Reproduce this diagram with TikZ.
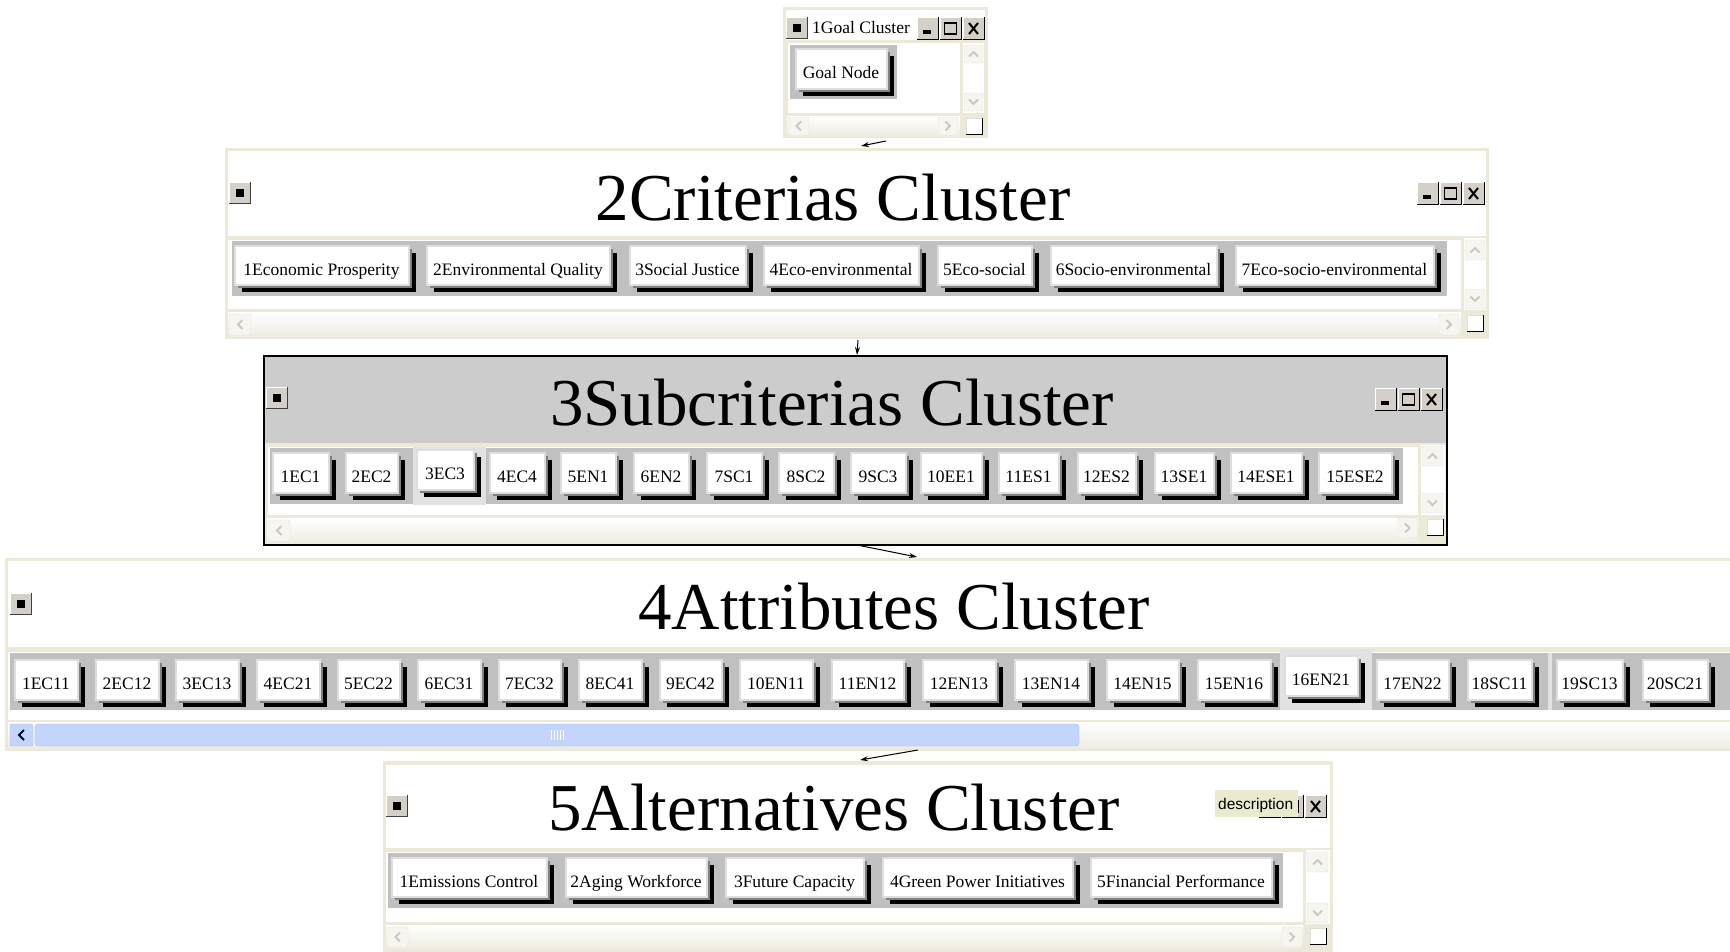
\documentclass[tikz,border=0pt]{standalone}
\usepackage{fontspec}
\setmainfont{Liberation Serif}
\newfontfamily\tipfont{Liberation Sans}
\usetikzlibrary{shadows,arrows.meta}
\definecolor{frm}{RGB}{236,233,216}
\definecolor{bandc}{RGB}{192,192,192}
\definecolor{btnedge}{RGB}{222,222,222}
\definecolor{btndark}{RGB}{128,128,128}
\definecolor{wbtnc}{RGB}{212,208,200}
\definecolor{sgrey}{RGB}{204,204,204}
\definecolor{sbfill}{RGB}{246,245,240}
\definecolor{sbedge}{RGB}{226,224,214}
\definecolor{sbglyph}{RGB}{200,200,196}
\definecolor{sbshade}{RGB}{238,236,226}
\definecolor{thumbc}{RGB}{196,213,252}
\definecolor{thumbedge}{RGB}{168,190,242}
\definecolor{tipbg}{RGB}{234,234,206}
\definecolor{selband}{RGB}{226,226,226}
\newcommand\btnfont{\fontsize{17.5}{20}\selectfont}
\newcommand\ttlfont{\fontsize{67}{70}\selectfont}
\tikzset{
  btn/.style={fill=white, draw=btnedge, line width=2pt, inner sep=0pt, font=\btnfont,
    text height=22pt, text depth=2pt,
    general shadow={fill=black, shadow xshift=7pt, shadow yshift=-7pt},
    general shadow={fill=btndark, shadow xshift=3.5pt, shadow yshift=-3.5pt}},
  ttl/.style={anchor=base, font=\ttlfont, inner sep=0pt},
  conn/.style={line width=1pt, -{Stealth[length=8pt,width=5pt]}}
}
\newcommand\btn[6]{\node[btn, minimum width={#3-#2-9}, minimum height={#5-#4-9}] (#1) at ({(#2+#3-8)/2},{(#4+#5-8)/2}) {#6};}
\newcommand\onewbtn[2]{%
  \fill[wbtnc] (#1,#2) rectangle ++(22,23);
  \draw[white,line width=1pt] (#1+0.5,#2+22.5) -- (#1+0.5,#2+0.5) -- (#1+21.5,#2+0.5);
  \draw[black,line width=1.5pt] (#1,#2+22.25) -- (#1+21.25,#2+22.25) -- (#1+21.25,#2);}
\newcommand\winbtns[2]{%
  \onewbtn{#1}{#2}\onewbtn{#1+23}{#2}\onewbtn{#1+46}{#2}
  \fill[black] (#1+6,#2+13) rectangle (#1+14,#2+16.5);
  \draw[black,line width=1.5pt] (#1+27.5,#2+5.5) rectangle (#1+39.5,#2+17);
  \draw[black,line width=2.5pt] (#1+27.5,#2+6) -- (#1+39.5,#2+6);
  \draw[black,line width=2pt] (#1+52,#2+6) -- (#1+61,#2+17) (#1+61,#2+6) -- (#1+52,#2+17);}
\newcommand\icn[2]{%
  \fill[wbtnc] (#1,#2) rectangle ++(22,22);
  \draw[white,line width=1pt] (#1+0.5,#2+21.5) -- (#1+0.5,#2+0.5) -- (#1+21.5,#2+0.5);
  \draw[black!75,line width=1.5pt] (#1,#2+21.25) -- (#1+21.25,#2+21.25) -- (#1+21.25,#2);
  \fill[black] (#1+7,#2+7) rectangle ++(8,8);}
\newcommand\sbtn[5]{%
  \draw[sbedge, fill=sbfill, rounded corners=2pt] (#1,#2) rectangle ++(#3,#4);
  \begin{scope}[shift={({#1+#3/2},{#2+#4/2})}, rotate=#5]
    \draw[sbglyph, line width=1.8pt] (2.5,-4.5) -- (-2,0) -- (2.5,4.5);
  \end{scope}}
\newcommand\corner[2]{%
  \fill[white] (#1,#2) rectangle ++(17,17);
  \draw[sbedge] (#1,#2+16) -- (#1,#2) -- (#1+16,#2);
  \draw[black,line width=1.5pt] (#1,#2+16.5) -- (#1+16.5,#2+16.5) -- (#1+16.5,#2);}
\begin{document}
\begin{tikzpicture}[x=1pt,y=-1pt]
\clip (0,0) rectangle (1730,951);
\fill[white] (0,0) rectangle (1730,951);

% ---------- 1 Goal cluster ----------
\fill[frm] (783,7) rectangle (988,138);
\fill[white] (786,10) rectangle (985,40);
\icn{786}{17}
\node[anchor=base west, font=\btnfont, inner sep=0pt] (gtitle) at (812,33) {1Goal Cluster};
\winbtns{917}{17}
\fill[white] (788,43) rectangle (960,113);
\fill[bandc] (790,45) rectangle (897,99);
\btn{goal}{795}{895}{48}{97}{Goal Node}
\fill[white] (963,43) rectangle (984,113);
\sbtn{964}{45}{19}{18}{-90}
\sbtn{964}{93}{19}{18}{90}
\shade[top color=white,bottom color=sbshade] (787,116) rectangle (960,136);
\sbtn{788}{117}{21}{18}{0}
\sbtn{938}{117}{20}{18}{180}
\corner{966}{118}

% ---------- 2 Criterias cluster ----------
\fill[frm] (225,148) rectangle (1489,339);
\fill[white] (228,151) rectangle (1486,236);
\icn{229}{182}
\node[ttl] (ctitle) at (833,220) {2Criterias Cluster};
\winbtns{1417}{182}
\fill[white] (228,240) rectangle (1461,309);
\fill[bandc] (232,241) rectangle (1447,296);
\btn{c1}{234}{417}{245}{293}{1Economic Prosperity}
\btn{c2}{426}{618}{245}{293}{2Environmental Quality}
\btn{c3}{629}{754}{245}{293}{3Social Justice}
\btn{c4}{763}{927}{245}{293}{4Eco-environmental}
\btn{c5}{937}{1040}{245}{293}{5Eco-social}
\btn{c6}{1050}{1225}{245}{293}{6Socio-environmental}
\btn{c7}{1235}{1442}{245}{293}{7Eco-socio-environmental}
\fill[white] (1464,238) rectangle (1486,310);
\sbtn{1465}{240}{20}{20}{-90}
\sbtn{1465}{289}{20}{20}{90}
\shade[top color=white,bottom color=sbshade] (228,312) rectangle (1461,336);
\sbtn{229}{314}{22}{21}{0}
\sbtn{1439}{314}{20}{21}{180}
\corner{1467}{315}

% ---------- 3 Subcriterias cluster ----------
\fill[frm] (263,355) rectangle (1448,546);
\fill[sgrey] (264,356) rectangle (1447,443);
\icn{266}{387}
\node[ttl] (stitle) at (832,425) {3Subcriterias Cluster};
\winbtns{1375}{388}
\fill[white] (268,447) rectangle (1418,515);
\fill[bandc] (270,448) rectangle (1403,504);
\fill[selband] (413,447) rectangle (486,505);
\btn{s1}{272}{337}{452}{501}{1EC1}
\btn{s2}{345}{406}{452}{501}{2EC2}
\btn{s3}{416}{482}{449}{498}{3EC3}
\btn{s4}{489}{553}{452}{501}{4EC4}
\btn{s5}{560}{624}{452}{501}{5EN1}
\btn{s6}{633}{697}{452}{501}{6EN2}
\btn{s7}{706}{770}{452}{501}{7SC1}
\btn{s8}{778}{842}{452}{501}{8SC2}
\btn{s9}{850}{914}{452}{501}{9SC3}
\btn{s10}{920}{990}{452}{501}{10EE1}
\btn{s11}{998}{1067}{452}{501}{11ES1}
\btn{s12}{1077}{1144}{452}{501}{12ES2}
\btn{s13}{1154}{1222}{452}{501}{13SE1}
\btn{s14}{1230}{1310}{452}{501}{14ESE1}
\btn{s15}{1318}{1400}{452}{501}{15ESE2}
\fill[white] (1421,445) rectangle (1445,515);
\sbtn{1422}{446}{21}{20}{-90}
\sbtn{1422}{493}{21}{20}{90}
\shade[top color=white,bottom color=sbshade] (267,518) rectangle (1418,543);
\sbtn{268}{520}{22}{21}{0}
\sbtn{1398}{518}{19}{20}{180}
\corner{1427}{519}
\draw[black,line width=2.5pt] (264,356) rectangle (1447,545);

% ---------- 4 Attributes cluster ----------
\fill[frm] (5,558) rectangle (1740,751);
\fill[white] (8,561) rectangle (1740,647);
\icn{10}{593}
\node[ttl] (atitle) at (894,629) {4Attributes Cluster};
\fill[white] (8,652) rectangle (1740,720);
\fill[bandc] (10,653) rectangle (1740,710);
\fill[selband] (1280,649) rectangle (1372,710);
\fill[selband] (1548,653) rectangle (1552,710);
\btn{a1}{14}{86}{659}{708}{1EC11}
\btn{a2}{95}{167}{659}{708}{2EC12}
\btn{a3}{175}{247}{659}{708}{3EC13}
\btn{a4}{256}{328}{659}{708}{4EC21}
\btn{a5}{337}{408}{659}{708}{5EC22}
\btn{a6}{417}{489}{659}{708}{6EC31}
\btn{a7}{498}{569}{659}{708}{7EC32}
\btn{a8}{578}{650}{659}{708}{8EC41}
\btn{a9}{659}{730}{659}{708}{9EC42}
\btn{a10}{739}{821}{659}{708}{10EN11}
\btn{a11}{831}{912}{659}{708}{11EN12}
\btn{a12}{922}{1004}{659}{708}{12EN13}
\btn{a13}{1014}{1096}{659}{708}{13EN14}
\btn{a14}{1106}{1187}{659}{708}{14EN15}
\btn{a15}{1197}{1279}{659}{708}{15EN16}
\btn{a16}{1284}{1366}{655}{704}{16EN21}
\btn{a17}{1376}{1457}{659}{708}{17EN22}
\btn{a18}{1467}{1540}{659}{708}{18SC11}
\btn{a19}{1556}{1631}{659}{708}{19SC13}
\btn{a20}{1642}{1716}{659}{708}{20SC21}
\shade[top color=white,bottom color=sbshade] (8,722) rectangle (1740,748);
\draw[thumbedge, fill=thumbc, rounded corners=3pt] (35,724) rectangle (1079,746);
\foreach \gx in {551,554,557,560,563} \draw[white,line width=1pt] (\gx,730) -- (\gx,740);
\draw[thumbedge, fill=thumbc, rounded corners=2pt] (10,724) rectangle (33,746);
\draw[black!75!blue,line width=2pt] (24,730) -- (19,735) -- (24,740);

% ---------- 5 Alternatives cluster ----------
\fill[frm] (383,761) rectangle (1333,955);
\fill[white] (386,765) rectangle (1330,848);
\icn{386}{795}
\node[ttl] (ltitle) at (834,830) {5Alternatives Cluster};
\winbtns{1259}{795}
\fill[tipbg] (1215,790) rectangle (1298,817);
\node[anchor=base west, inner sep=0pt, font={\tipfont\fontsize{15.5}{17}\selectfont}] (tipt) at (1218,809) {description};
\fill[white] (386,852) rectangle (1303,922);
\fill[bandc] (388,853) rectangle (1283,908);
\btn{l1}{391}{555}{857}{905}{1Emissions Control}
\btn{l2}{565}{715}{857}{905}{2Aging Workforce}
\btn{l3}{725}{872}{857}{905}{3Future Capacity}
\btn{l4}{882}{1081}{857}{905}{4Green Power Initiatives}
\btn{l5}{1090}{1280}{857}{905}{5Financial Performance}
\fill[white] (1306,850) rectangle (1330,924);
\sbtn{1307}{852}{21}{20}{-90}
\sbtn{1307}{903}{21}{20}{90}
\shade[top color=white,bottom color=sbshade] (386,925) rectangle (1303,948);
\sbtn{387}{927}{21}{20}{0}
\sbtn{1282}{927}{20}{20}{180}
\corner{1310}{928}

% ---------- connectors ----------
\coordinate (g-out) at (886,141);
\coordinate (c-in) at (861,146);
\coordinate (c-out) at (858,340);
\coordinate (s-in) at (857,355);
\coordinate (s-out) at (857,545);
\coordinate (a-in) at (917,557);
\coordinate (a-out) at (918,750);
\coordinate (l-in) at (860,760);
\draw[conn] (g-out) -- (c-in);
\draw[conn] (c-out) -- (s-in);
\draw[conn] (s-out) -- (a-in);
\draw[conn] (a-out) -- (l-in);
\end{tikzpicture}
\end{document}
